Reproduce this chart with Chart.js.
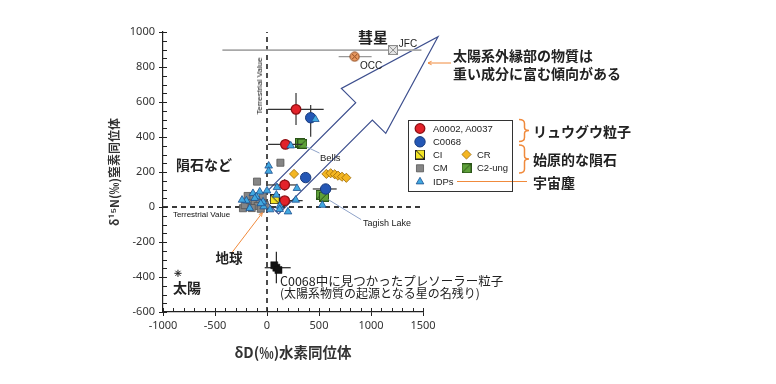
<!DOCTYPE html>
<html><head><meta charset="utf-8">
<script src="https://cdn.jsdelivr.net/npm/chart.js@4.4.1/dist/chart.umd.min.js"></script>
<style>
html,body{margin:0;padding:0;background:#fff;}
#wrap{position:relative;width:776px;height:384px;overflow:hidden;background:#fff;}
canvas{position:absolute;left:0;top:0;}
.t{position:absolute;white-space:nowrap;color:#222;font-family:"Noto Sans CJK JP","Noto Sans",sans-serif;line-height:1;}
.lat{font-family:"Liberation Sans","Noto Sans",sans-serif;}
#legbox{position:absolute;left:408px;top:120px;width:103px;height:70px;border:1px solid #333;}
</style></head><body>
<div id="wrap"><canvas id="c" width="776" height="384"></canvas><div id="legbox"></div></div>
<script>
// ---------------- data ----------------
const xTickValues = [-1000, -500, 0, 500, 1000, 1500];
const yTickValues = [-600, -400, -200, 0, 200, 400, 600, 800, 1000];

// Ryugu particles A0002, A0037
const ryuguAX = [279, 177, 170, 170];
const ryuguAY = [558, 358, 126, 36];
const ryuguAXErr = [[10, 545], [10, 340], [10, 283], [26, 343]];
const ryuguAYErr = [[469, 651], null, [95, 158], null];

// Ryugu particle C0068
const ryuguCX = [420, 372, 564];
const ryuguCY = [510, 168, 103];
const ryuguCXErr = [null, null, [440, 670]];
const ryuguCYErr = [[402, 583], null, null];

// CI chondrite
const ciX = [74];
const ciY = [44];

// CR chondrites
const crX = [260, 571, 612, 651, 683, 721, 763];
const crY = [189, 189, 193, 187, 179, 173, 167];

// CM chondrites
const cmX = [129, -96, -231, -214, -166, -118, -70, -41, -89, -147, -22, -186, -60, -130];
const cmY = [253, 145, -7, 11, 40, 23, 40, 63, 6, -6, 11, 63, -10, 60];

// C2-ung (Bells, Tagish Lake)
const c2X = [318, 340, 516, 548];
const c2Y = [366, 362, 69, 59];

// IDPs
const idpX = [465, 228, 16, 16, 0, 96, 288, 276, 122, 202, 122, -32, -166, -198, -135, -70, -102, -118, -38, 532, -240, 90, -60, 30];
const idpY = [501, 350, 235, 205, 93, 112, 107, 40, 6, -27, -13, 2, -7, 36, 78, 87, 59, 50, 30, 11, 40, 69, 20, -15];

// Comets
const jfcX = [1212], jfcY = [897], jfcXErr = [[-429, 1485]];
const occX = [843], occY = [859], occXErr = [[689, 1006]], occYErr = [[838, 880]];

// Presolar grain in C0068
const presolarX = [90, 70, 110];
const presolarY = [-347, -333, -360];
const presolarXErr = [[-22, 228], null, null];
const presolarYErr = [[-436, -255], null, null];

// Sun
const sunX = [-856], sunY = [-379];

// Terrestrial value reference lines
const terrVX = [0, 0], terrVY = [-600, 1000];
const terrHX = [-1000, 1500], terrHY = [0, 0];

// Big arrow outline (data units)
const arrowX = [-52, 853, 715, 1644, 1142, 1013, 111];
const arrowY = [58, 596, 678, 973, 421, 497, -39];

// ---------------- helpers ----------------
const pts = (xs, ys) => xs.map((x, i) => ({x, y: ys[i]}));
const errs = (xe, ye) => xe.map((e, i) => ({x: e, y: ye ? ye[i] : null}));

function sqImg(fill, stroke, diag, cross) {
  const c = document.createElement('canvas'); c.width = 10; c.height = 10;
  const g = c.getContext('2d');
  g.fillStyle = fill; g.fillRect(0.5, 0.5, 9, 9);
  g.strokeStyle = stroke; g.lineWidth = 1; g.strokeRect(0.5, 0.5, 9, 9);
  g.beginPath();
  if (diag === '\\' || cross) { g.moveTo(1, 1); g.lineTo(9, 9); }
  if (diag === '/' || cross) { g.moveTo(1, 9); g.lineTo(9, 1); }
  g.stroke();
  return c;
}
function occImg() {
  const c = document.createElement('canvas'); c.width = 11; c.height = 11;
  const g = c.getContext('2d');
  g.beginPath(); g.arc(5.5, 5.5, 4.6, 0, Math.PI * 2);
  g.fillStyle = '#e99a62'; g.fill(); g.strokeStyle = '#8a4418'; g.lineWidth = 1; g.stroke();
  g.beginPath(); g.moveTo(3, 3); g.lineTo(8, 8); g.moveTo(3, 8); g.lineTo(8, 3); g.stroke();
  return c;
}
const ciStyle = sqImg('#f3e424', '#222', '\\');
const c2Style = sqImg('#5ea03a', '#2b5518', '/');
const jfcStyle = sqImg('#e6e6e6', '#8c8c8c', null, true);
const occStyle = occImg();

const S = {
  red: {pointStyle: 'circle', radius: 4.8, bg: '#e3222a', bd: '#8e1014', bw: 1.3},
  blue: {pointStyle: 'circle', radius: 5.2, bg: '#2457b5', bd: '#173a7c', bw: 1},
  ci: {pointStyle: ciStyle, radius: 5, bg: '#f3e424', bd: '#222', bw: 1},
  cr: {pointStyle: 'rectRot', radius: 4.6, bg: '#f4b622', bd: '#9a6a08', bw: 0.8},
  cm: {pointStyle: 'rect', radius: 5, bg: '#858585', bd: '#555', bw: 0.8},
  c2: {pointStyle: c2Style, radius: 5, bg: '#5ea03a', bd: '#2b5518', bw: 1},
  idp: {pointStyle: 'triangle', radius: 4.4, bg: '#41a8e0', bd: '#1d4f8e', bw: 0.8}
};

function ds(label, data, s, extra) {
  return Object.assign({label, data, pointStyle: s.pointStyle, pointRadius: s.radius,
    pointBackgroundColor: s.bg, pointBorderColor: s.bd, pointBorderWidth: s.bw,
    backgroundColor: s.bg, borderColor: s.bd, showLine: false, pointHoverRadius: s.radius}, extra || {});
}

const datasets = [
  ds('Sun', pts(sunX, sunY), {pointStyle: 'star', radius: 3.6, bg: '#222', bd: '#222', bw: 1}),
  ds('Presolar', pts(presolarX, presolarY), {pointStyle: 'rect', radius: 5, bg: '#111', bd: '#111', bw: 0.5},
     {err: errs(presolarXErr, presolarYErr), errColor: '#222'}),
  ds('IDPs', pts(idpX, idpY), S.idp),
  ds('CI', pts(ciX, ciY), S.ci),
  ds('A0002, A0037', pts(ryuguAX, ryuguAY), S.red, {err: errs(ryuguAXErr, ryuguAYErr), errColor: '#333'}),
  ds('C0068', pts(ryuguCX, ryuguCY), S.blue, {err: errs(ryuguCXErr, ryuguCYErr), errColor: '#333'}),
  ds('C2-ung', pts(c2X, c2Y), S.c2),
  ds('CR', pts(crX, crY), S.cr),
  ds('CM', pts(cmX, cmY), S.cm),
  ds('JFC', pts(jfcX, jfcY), {pointStyle: jfcStyle, radius: 5, bg: '#e6e6e6', bd: '#8c8c8c', bw: 1},
     {err: errs(jfcXErr, null), errColor: '#a8a8a8', errWidth: 1.8}),
  ds('OCC', pts(occX, occY), {pointStyle: occStyle, radius: 5, bg: '#e99a62', bd: '#8a4418', bw: 1},
     {err: errs(occXErr, occYErr), errColor: '#999', errWidth: 1.2}),
  {label: 'terrV', data: pts(terrVX, terrVY), showLine: true, pointRadius: 0, borderColor: '#3a3a3a',
   borderWidth: 1.8, borderDash: [5, 4], fill: false},
  {label: 'terrH', data: pts(terrHX, terrHY), showLine: true, pointRadius: 0, borderColor: '#3a3a3a',
   borderWidth: 1.8, borderDash: [5, 4], fill: false}
];

const H = Chart.helpers;
function P(chart, x, y) { return [chart.scales.x.getPixelForValue(x), chart.scales.y.getPixelForValue(y)]; }
function line(ctx, x1, y1, x2, y2) { ctx.beginPath(); ctx.moveTo(x1, y1); ctx.lineTo(x2, y2); ctx.stroke(); }
function arrowHead(ctx, x1, y1, x2, y2, size) {
  const a = Math.atan2(y2 - y1, x2 - x1);
  ctx.beginPath();
  ctx.moveTo(x2, y2);
  ctx.lineTo(x2 - size * Math.cos(a - 0.45), y2 - size * Math.sin(a - 0.45));
  ctx.moveTo(x2, y2);
  ctx.lineTo(x2 - size * Math.cos(a + 0.45), y2 - size * Math.sin(a + 0.45));
  ctx.stroke();
}
function brace(ctx, x, y1, y2, w) {
  const m = (y1 + y2) / 2, xm = x + w * 0.55;
  ctx.beginPath();
  ctx.moveTo(x, y1);
  ctx.quadraticCurveTo(xm, y1, xm, y1 + 4);
  ctx.lineTo(xm, m - 3);
  ctx.quadraticCurveTo(xm, m, x + w, m);
  ctx.quadraticCurveTo(xm, m, xm, m + 3);
  ctx.lineTo(xm, y2 - 4);
  ctx.quadraticCurveTo(xm, y2, x, y2);
  ctx.stroke();
}

const legendItems = [
  {s: S.red, x: 420, y: 128.5}, {s: S.blue, x: 420, y: 141.8},
  {s: S.ci, x: 420, y: 154.5}, {s: S.cr, x: 466.5, y: 154.5},
  {s: S.cm, x: 420, y: 168.3}, {s: S.c2, x: 466.5, y: 168.3},
  {s: S.idp, x: 420, y: 181.7}
];

const ORANGE = '#f08a3c';
const decor = {
  id: 'decor',
  beforeDatasetsDraw(chart) {
    const ctx = chart.ctx;
    ctx.save();
    ctx.beginPath();
    arrowX.forEach((x, i) => { const [a, b] = P(chart, x, arrowY[i]); i ? ctx.lineTo(a, b) : ctx.moveTo(a, b); });
    ctx.closePath();
    ctx.strokeStyle = '#3d4f8e'; ctx.lineWidth = 1.2; ctx.lineJoin = 'miter'; ctx.stroke();
    ctx.restore();
  },
  beforeDatasetDraw(chart, args) {
    const d = chart.data.datasets[args.index];
    if (!d.err) return;
    const ctx = chart.ctx;
    ctx.save();
    ctx.strokeStyle = d.errColor || '#333'; ctx.lineWidth = d.errWidth || 1.2;
    d.err.forEach((e, i) => {
      const p = d.data[i];
      if (e.x) { const [a, b] = P(chart, e.x[0], p.y); const [c] = P(chart, e.x[1], p.y); line(ctx, a, b, c, b); }
      if (e.y) { const [a, b] = P(chart, p.x, e.y[0]); const [, c] = P(chart, p.x, e.y[1]); line(ctx, a, b, a, c); }
    });
    ctx.restore();
  },
  afterDatasetsDraw(chart) {
    const ctx = chart.ctx, xs = chart.scales.x, ys = chart.scales.y, ca = chart.chartArea;
    ctx.save();
    // inward ticks: major + minor
    ctx.strokeStyle = '#222'; ctx.lineWidth = 1;
    for (let v = -1000; v <= 1500; v += 100) {
      const x = Math.round(xs.getPixelForValue(v)) + 0.5;
      line(ctx, x, ca.bottom, x, ca.bottom - 4);
    }
    for (let v = -600; v <= 1000; v += 50) {
      const y = Math.round(ys.getPixelForValue(v)) + 0.5;
      line(ctx, ca.left, y, ca.left + 4, y);
    }
    // leader lines
    ctx.strokeStyle = '#8ea2c8'; ctx.lineWidth = 1;
    let a = P(chart, 375, 345), b = P(chart, 505, 308); line(ctx, a[0], a[1], b[0], b[1]);
    a = P(chart, 590, 42); b = P(chart, 905, -72); line(ctx, a[0], a[1], b[0], b[1]);
    // orange arrows
    ctx.strokeStyle = ORANGE; ctx.lineWidth = 1;
    a = P(chart, -339, -262); b = P(chart, -45, -33);
    line(ctx, a[0], a[1], b[0], b[1]); arrowHead(ctx, a[0], a[1], b[0], b[1], 4);
    line(ctx, 451, 63, 428, 63); arrowHead(ctx, 451, 63, 428, 63, 4);
    line(ctx, 457, 181.5, 527, 181.5);
    ctx.lineWidth = 1.5;
    brace(ctx, 519, 119.5, 141.5, 10);
    brace(ctx, 519, 145, 173, 10);
    // legend markers
    legendItems.forEach(it => {
      ctx.fillStyle = it.s.bg; ctx.strokeStyle = it.s.bd; ctx.lineWidth = it.s.bw;
      H.drawPoint(ctx, {pointStyle: it.s.pointStyle, radius: it.s.radius, rotation: 0, borderWidth: it.s.bw}, it.x, it.y);
    });
    ctx.restore();
  }
};

Chart.defaults.font.family = '"Noto Sans", "DejaVu Sans", sans-serif';
Chart.defaults.color = '#333';

new Chart(document.getElementById('c'), {
  type: 'scatter',
  data: {datasets},
  options: {
    responsive: false, animation: false, devicePixelRatio: 1,
    layout: {padding: {left: 103, top: 32, right: 353, bottom: 17}},
    plugins: {legend: {display: false}, tooltip: {enabled: false}},
    scales: {
      x: {
        type: 'linear', min: -1000, max: 1500, position: 'bottom',
        afterFit(s) { s.height = 55; },
        afterBuildTicks(s) { s.ticks = xTickValues.map(v => ({value: v})); },
        ticks: {font: {size: 11}, color: '#333', padding: 3, maxRotation: 0, callback: v => String(v)},
        grid: {drawOnChartArea: false, drawTicks: true, tickLength: 4, color: '#222', tickWidth: 1},
        border: {color: '#222', width: 1.2},
        title: {display: true, text: 'δD(‰)水素同位体', color: '#333',
          font: {size: 14.5, family: '"Noto Sans CJK JP", sans-serif', weight: 'bold'}, padding: {top: 0, bottom: 6}}
      },
      y: {
        type: 'linear', min: -600, max: 1000,
        afterFit(s) { s.width = 60; },
        afterBuildTicks(s) { s.ticks = yTickValues.map(v => ({value: v})); },
        ticks: {font: {size: 11}, color: '#333', padding: 4, callback: v => String(v)},
        grid: {drawOnChartArea: false, drawTicks: true, tickLength: 4, color: '#222', tickWidth: 1},
        border: {color: '#222', width: 1.2},
        title: {display: true, text: 'δ¹⁵N(‰)窒素同位体', color: '#333',
          font: {size: 12, family: '"Noto Sans CJK JP", sans-serif', weight: 'bold'}, padding: {top: 4, bottom: 4}}
      }
    }
  },
  plugins: [decor]
});

// ---------------- text annotations ----------------
const wrap = document.getElementById('wrap');
function label(text, x, y, css, anchor) {
  const d = document.createElement('div');
  d.className = 't';
  d.textContent = text;
  d.style.cssText += css || '';
  d.style.left = x + 'px'; d.style.top = y + 'px';
  d.style.transform = (anchor === 'left' ? 'translate(0,-50%)' : 'translate(-50%,-50%)');
  wrap.appendChild(d);
  return d;
}
const B = 'font-weight:bold;';
label('彗星', 373, 36, B + 'font-size:15px;');
label('JFC', 408, 44, 'font-size:10px;').classList.add('lat');
label('OCC', 371, 66, 'font-size:10px;').classList.add('lat');
label('太陽系外縁部の物質は', 453, 55, B + 'font-size:14px;', 'left');
label('重い成分に富む傾向がある', 453, 72.5, B + 'font-size:14px;', 'left');
const tv1 = label('Terrestrial Value', 259.5, 86, 'font-size:8px;color:#111;');
tv1.classList.add('lat'); tv1.style.transform = 'translate(-50%,-50%) rotate(-90deg)';
label('Terrestrial Value', 201.5, 214.5, 'font-size:8px;color:#111;').classList.add('lat');
label('隕石など', 204, 163.5, B + 'font-size:14px;');
label('Bells', 320, 157.5, 'font-size:9.5px;', 'left').classList.add('lat');
label('Tagish Lake', 363, 222.5, 'font-size:9px;', 'left').classList.add('lat');
label('地球', 229, 258, B + 'font-size:13.5px;');
label('太陽', 187, 286.5, B + 'font-size:14px;');
label('C0068中に見つかったプレソーラー粒子', 280, 280.5, 'font-size:12.5px;', 'left');
label('(太陽系物質の起源となる星の名残り)', 280, 293, 'font-size:12px;', 'left');
[['A0002, A0037', 433, 128.5], ['C0068', 433, 141.8], ['CI', 433, 154.5], ['CR', 477, 154.5],
 ['CM', 433, 168.3], ['C2-ung', 477, 168.3], ['IDPs', 433, 181.7]].forEach(a => {
  label(a[0], a[1], a[2], 'font-size:9.5px;', 'left').classList.add('lat');
});
label('リュウグウ粒子', 533, 130.5, B + 'font-size:14px;', 'left');
label('始原的な隕石', 533, 159, B + 'font-size:14px;', 'left');
label('宇宙塵', 533, 181.5, B + 'font-size:14px;', 'left');
</script>
</body></html>
